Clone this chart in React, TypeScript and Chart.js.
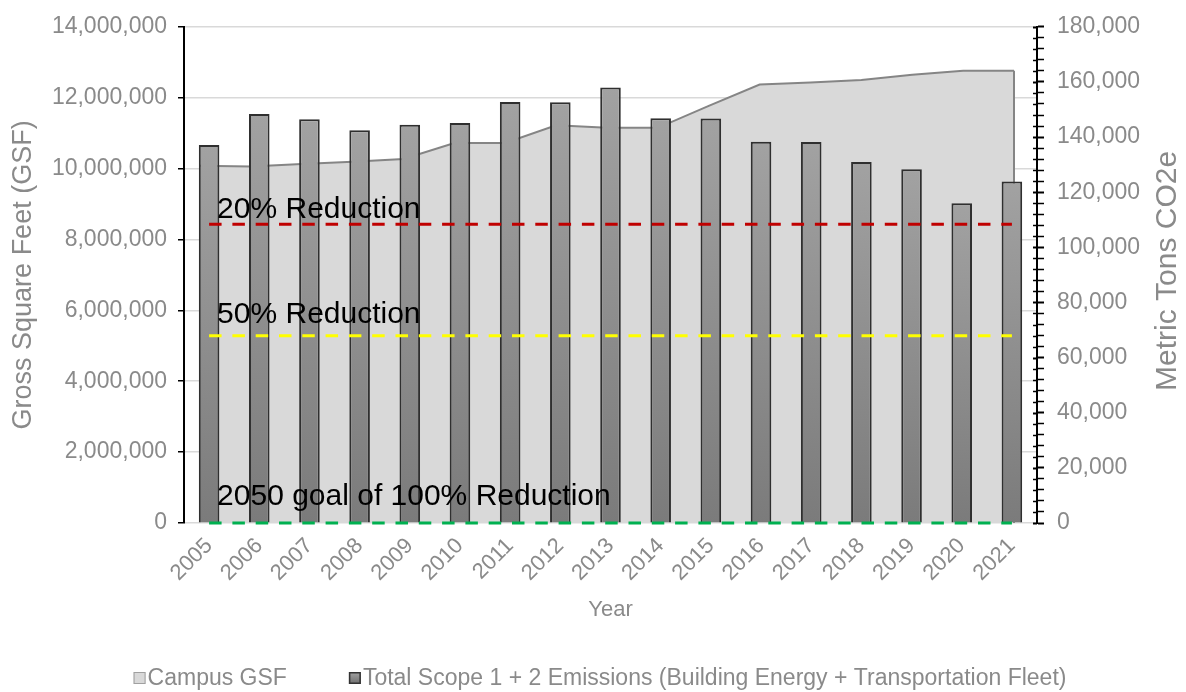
import { useEffect, useRef } from 'react';
import { Chart, registerables } from 'chart.js';

Chart.register(...registerables);

const years = ['2005', '2006', '2007', '2008', '2009', '2010', '2011', '2012', '2013', '2014', '2015', '2016', '2017', '2018', '2019', '2020', '2021'];

const campusGsf = [10080000, 10060000, 10130000, 10190000, 10270000, 10720000, 10720000, 11220000, 11150000, 11150000, 11770000, 12370000, 12430000, 12500000, 12650000, 12760000, 12760000];

const emissions = [137100, 148400, 146500, 142500, 144500, 145100, 152700, 152600, 158000, 146800, 146700, 138300, 138200, 131000, 128300, 116000, 123900];

const reductionLevels = [108400, 67900, 0];
const reductionLabels = ['20% Reduction', '50% Reduction', '2050 goal of 100% Reduction'];
const reductionColors = ['#c00000', '#ffff00', '#00b050'];
const reductionLabelLift = [6, 12.5, 18.5];

const gsfTicks = [0, 2000000, 4000000, 6000000, 8000000, 10000000, 12000000, 14000000];
const co2TickStep = 4000;
const co2LabelStep = 20000;

const legendLabels = ['Campus GSF', 'Total Scope 1 + 2 Emissions (Building Energy + Transportation Fleet)'];
const yTitleLeft = 'Gross Square Feet (GSF)';
const yTitleRight = 'Metric Tons CO2e';
const xTitle = 'Year';

const FONT = "'Liberation Sans', Arial, Helvetica, sans-serif";
const GRAY = '#8a8a8a';

export default function App() {
  const canvasRef = useRef<HTMLCanvasElement | null>(null);

  useEffect(() => {
    const canvas = canvasRef.current;
    if (!canvas) return;

    const overlayPlugin = {
      id: 'overlay',
      afterDatasetsDraw(chart: any) {
        const ctx = chart.ctx;
        const xs = chart.scales.x;
        const ys = chart.scales.y2;
        ctx.save();
        ctx.fillStyle = '#000';
        ctx.font = `30px ${FONT}`;
        ctx.textAlign = 'left';
        ctx.textBaseline = 'alphabetic';
        reductionLevels.forEach((lvl, i) => {
          const x = xs.getPixelForValue(0) + 8;
          const y = ys.getPixelForValue(lvl) - reductionLabelLift[i];
          ctx.fillText(reductionLabels[i], x, y);
        });
        ctx.restore();
      },
      afterDraw(chart: any) {
        const ctx = chart.ctx;
        const area = chart.chartArea;

        // inner part of the right axis tick marks (they cross the axis line)
        const ys = chart.scales.y2;
        ctx.save();
        ctx.strokeStyle = '#000';
        ys.ticks.forEach((t: any) => {
          const y = Math.round(ys.getPixelForValue(t.value)) + 0.5;
          ctx.lineWidth = t.value % co2LabelStep === 0 ? 2 : 1.5;
          ctx.beginPath();
          ctx.moveTo(area.right - 4, y);
          ctx.lineTo(area.right, y);
          ctx.stroke();
        });
        ctx.restore();

        ctx.save();
        ctx.fillStyle = GRAY;
        ctx.font = `30px ${FONT}`;
        ctx.textAlign = 'center';
        ctx.textBaseline = 'middle';
        ctx.translate(chart.width - 18, (area.top + area.bottom) / 2 - 4);
        ctx.rotate(-Math.PI / 2);
        ctx.fillText(yTitleRight, 0, 0);
        ctx.restore();

        ctx.save();
        ctx.font = `23px ${FONT}`;
        ctx.textBaseline = 'middle';
        ctx.textAlign = 'left';
        const box = 12;
        const gap = 2;
        const itemGap = 62;
        const w0 = ctx.measureText(legendLabels[0]).width;
        const w1 = ctx.measureText(legendLabels[1]).width;
        const total = box + gap + w0 + itemGap + box + gap + w1;
        let x = chart.width / 2 + 7 - total / 2;
        const cy = chart.height - 14;
        ctx.fillStyle = '#d9d9d9';
        ctx.fillRect(x, cy - box / 2, box, box);
        ctx.strokeStyle = '#a0a0a0';
        ctx.lineWidth = 1;
        ctx.strokeRect(x + 0.5, cy - box / 2 + 0.5, box - 1, box - 1);
        ctx.fillStyle = GRAY;
        ctx.fillText(legendLabels[0], x + box + gap, cy + 1);
        x += box + gap + w0 + itemGap;
        const g = ctx.createLinearGradient(0, cy - box / 2, 0, cy + box / 2);
        g.addColorStop(0, '#a3a3a3');
        g.addColorStop(1, '#6f6f6f');
        ctx.fillStyle = g;
        ctx.fillRect(x, cy - box / 2, box, box);
        ctx.strokeStyle = '#333';
        ctx.lineWidth = 1.5;
        ctx.strokeRect(x + 0.75, cy - box / 2 + 0.75, box - 1.5, box - 1.5);
        ctx.fillStyle = GRAY;
        ctx.fillText(legendLabels[1], x + box + gap, cy + 1);
        ctx.restore();
      },
    };

    const last = campusGsf.length - 1;

    const chart = new Chart(canvas, {
      type: 'bar',
      data: {
        labels: years,
        datasets: [
          ...reductionLevels.map((lvl, i) => ({
            type: 'line' as const,
            label: reductionLabels[i],
            data: years.map(() => lvl),
            xAxisID: 'x',
            yAxisID: 'y2',
            borderColor: reductionColors[i],
            borderWidth: 3,
            borderDash: [12.5, 10.8],
            pointRadius: 0,
            fill: false,
            clip: 6,
            order: 0,
          })),
          {
            type: 'bar' as const,
            label: legendLabels[1],
            data: emissions,
            xAxisID: 'x',
            yAxisID: 'y2',
            grouped: false,
            backgroundColor: (c: any) => {
              const ch = c.chart;
              if (!ch.chartArea || c.type !== 'data' || !ch.scales.y2) return '#8f8f8f';
              const ys = ch.scales.y2;
              const top = ys.getPixelForValue(c.raw);
              const base = ys.getPixelForValue(0);
              const g = ch.ctx.createLinearGradient(0, top, 0, base);
              g.addColorStop(0, '#a2a2a2');
              g.addColorStop(1, '#7b7b7b');
              return g;
            },
            borderColor: '#2f2f2f',
            borderWidth: 2,
            borderSkipped: 'bottom',
            barPercentage: 0.41,
            categoryPercentage: 1,
            order: 1,
          },
          {
            type: 'line' as const,
            label: 'edge',
            data: [
              { x: last, y: campusGsf[last] },
              { x: last, y: 0 },
            ],
            xAxisID: 'x2',
            yAxisID: 'y',
            borderColor: '#858585',
            borderWidth: 2,
            pointRadius: 0,
            fill: false,
            order: 2,
          },
          {
            type: 'line' as const,
            label: legendLabels[0],
            data: campusGsf.map((v, i) => ({ x: i, y: v })),
            xAxisID: 'x2',
            yAxisID: 'y',
            borderColor: '#858585',
            borderWidth: 2,
            backgroundColor: '#d9d9d9',
            fill: 'origin',
            pointRadius: 0,
            tension: 0,
            order: 3,
          },
        ],
      },
      options: {
        animation: false,
        responsive: true,
        maintainAspectRatio: false,
        layout: { padding: { top: 22, bottom: 69, left: 0, right: 0 } },
        plugins: {
          legend: { display: false },
          tooltip: { enabled: false },
        },
        scales: {
          x: {
            type: 'category',
            offset: true,
            grid: { display: true, drawOnChartArea: false, drawTicks: false, color: 'rgba(0,0,0,0)' },
            border: { display: false },
            ticks: {
              color: GRAY,
              font: { size: 22, family: FONT },
              minRotation: 45,
              maxRotation: 45,
              padding: 10,
              autoSkip: false,
            },
            title: {
              display: true,
              text: xTitle,
              color: GRAY,
              font: { size: 22, family: FONT },
              padding: 0,
            },
            afterFit: (s: any) => {
              s.height = 100;
            },
          },
          x2: {
            type: 'linear',
            display: false,
            offset: false,
            grid: { offset: false },
            min: -0.3145,
            max: 16.452,
          },
          y: {
            type: 'linear',
            position: 'left',
            min: 0,
            max: 14000000,
            afterBuildTicks: (s: any) => {
              s.ticks = gsfTicks.map((v) => ({ value: v }));
            },
            ticks: {
              color: GRAY,
              font: { size: 23, family: FONT },
              padding: 11,
              callback: (v: any) => Number(v).toLocaleString('en-US'),
            },
            grid: {
              color: '#d9d9d9',
              lineWidth: 1.5,
              tickColor: '#000',
              tickLength: 6,
              tickWidth: 1.5,
            },
            border: { color: '#000', width: 2 },
            title: {
              display: true,
              text: yTitleLeft,
              color: GRAY,
              font: { size: 27, family: FONT },
              padding: { top: 7, bottom: 0 },
            },
            afterFit: (s: any) => {
              s.width = 184;
            },
          },
          y2: {
            type: 'linear',
            position: 'right',
            min: 0,
            max: 180000,
            ticks: {
              stepSize: co2TickStep,
              maxTicksLimit: 100,
              autoSkip: false,
              color: GRAY,
              font: { size: 23, family: FONT },
              padding: 13,
              callback: (v: any) => (Number(v) % co2LabelStep === 0 ? Number(v).toLocaleString('en-US') : ''),
            },
            grid: {
              drawOnChartArea: false,
              tickColor: '#000',
              tickLength: 7,
              tickWidth: (c: any) => (c.tick && c.tick.value % co2LabelStep === 0 ? 2 : 1.5),
            },
            border: { color: '#000', width: 2 },
            afterFit: (s: any) => {
              s.width = 149;
            },
          },
        },
      },
      plugins: [overlayPlugin],
    } as any);

    return () => {
      chart.destroy();
    };
  }, []);

  return (
    <div style={{ position: 'fixed', left: 0, top: 0, width: 1186, height: 692, background: '#fff' }}>
      <canvas ref={canvasRef} />
    </div>
  );
}
